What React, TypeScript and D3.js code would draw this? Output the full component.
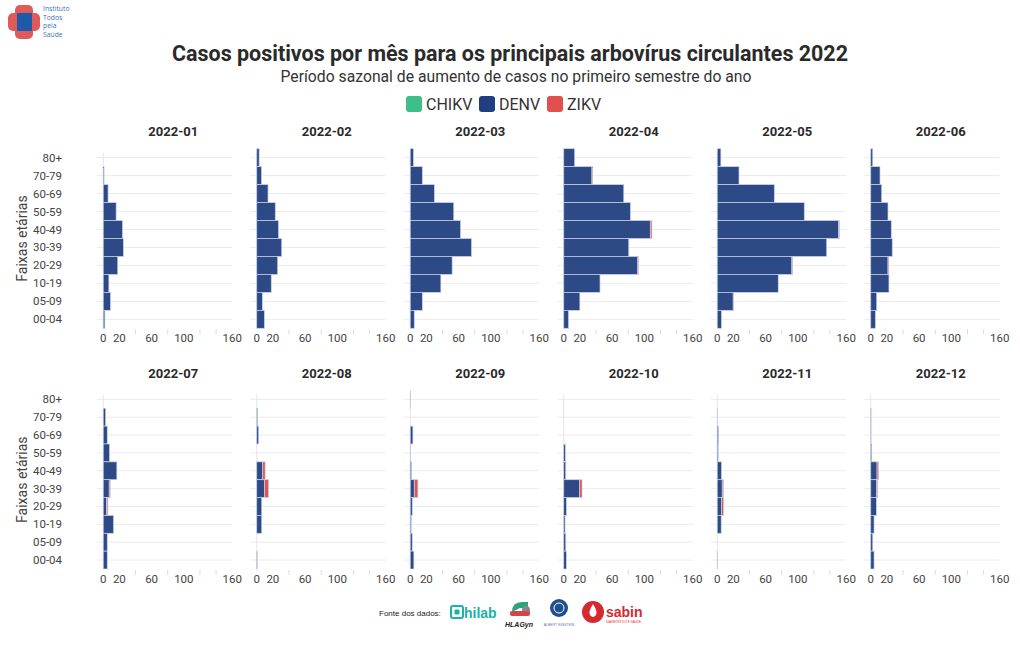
import React from "react";
import * as d3 from "d3";

const ageGroups = ["80+", "70-79", "60-69", "50-59", "40-49", "30-39", "20-29", "10-19", "05-09", "00-04"];
const months = ["2022-01", "2022-02", "2022-03", "2022-04", "2022-05", "2022-06", "2022-07", "2022-08", "2022-09", "2022-10", "2022-11", "2022-12"];
const seriesNames = ["CHIKV", "DENV", "ZIKV"];
const seriesColors = ["#3dbf8a", "#2e4a86", "#e05353"];
const legendColors = ["#3dbf8a", "#213e80", "#e24f4f"];

// values per month, in ageGroups order (80+ ... 00-04)
const denv = [
  [0, 1, 6, 16, 24, 25, 18, 7, 9, 2],
  [3, 6, 14, 23, 27, 31, 26, 18, 7, 9.5],
  [4, 15, 30, 54, 62.5, 76, 52, 38, 15, 5],
  [13.6, 35, 74.5, 82.7, 107.4, 80.7, 91.8, 45, 20, 6],
  [4.5, 27, 70.8, 108, 150.6, 135.8, 92.6, 75.7, 19.8, 5.3],
  [2.5, 11.5, 13.6, 21.4, 25.5, 26.7, 21.4, 22.6, 7.4, 5.8],
  [0, 3, 5, 7.8, 16.9, 7.4, 4.1, 12.8, 5, 5],
  [0, 1, 2.4, 0, 7.4, 9.5, 6.2, 6.2, 0, 0.5],
  [0.3, 0, 3.3, 0.3, 1.6, 5, 2.5, 1.2, 2.5, 4.5],
  [0, 0, 0, 2, 2.5, 19.8, 3.3, 1.6, 2.5, 3.3],
  [0, 0.5, 1.6, 1.2, 5.3, 6.2, 5.3, 4.9, 0, 0.5],
  [0, 0.4, 0.4, 1.2, 7.8, 7, 7, 4.1, 2.5, 4.1],
];
const zikv = [
  [0, 0, 0, 0, 0, 0, 0, 0, 0, 0],
  [0, 0, 0, 0, 0, 0, 0, 0, 0, 0],
  [0, 0, 0, 0, 0, 0, 0, 0, 0, 0],
  [0, 1, 0, 0, 2, 0, 1, 0, 0, 0],
  [0, 0, 0, 0, 1, 0, 1, 0, 0.5, 0],
  [0, 0, 0, 0, 0, 0, 1, 0, 0, 0],
  [0, 0, 0, 0, 0, 1.2, 1.6, 0, 0, 0],
  [0, 0, 0, 0, 3, 5.3, 0, 0, 0, 0],
  [0, 0, 0, 0, 0, 4.5, 0, 0, 0, 0],
  [0, 0, 0, 0, 0, 2.9, 0, 0, 0, 0],
  [0, 0, 0, 0, 0, 1.6, 2.5, 0, 0, 0],
  [0, 0, 0, 0, 2, 1.6, 0, 0, 0, 0],
];
const chikv = months.map(() => ageGroups.map(() => 0));

const xTickLabels = [0, 20, 60, 100, 160];
const xMinorTicks = [40, 80, 120, 140];

const FONT = "'Liberation Sans Narrow', 'Roboto', 'Noto Sans', sans-serif";

type Row = { age: string; CHIKV: number; DENV: number; ZIKV: number };

function Panel({ mi }: { mi: number }) {
  const col = mi % 6;
  const row = Math.floor(mi / 6);
  const left = 96.8 + 153.5 * col;
  const x = d3.scaleLinear().domain([-8, 160]).range([left, left + 135.4]);
  const yRange: [number, number] = row === 0 ? [148.7, 328.3] : [390.4, 569];
  const y = d3.scaleBand<string>().domain(ageGroups).range(yRange).padding(0);
  const data: Row[] = ageGroups.map((a, i) => ({
    age: a,
    CHIKV: chikv[mi][i],
    DENV: denv[mi][i],
    ZIKV: zikv[mi][i],
  }));
  const stack = d3.stack<Row>().keys(seriesNames);
  const layers = stack(data);
  const bottom = yRange[1];
  const titleY = row === 0 ? 136 : 378;
  return (
    <g>
      <text x={x(0) + 70} y={titleY} textAnchor="middle" fontFamily={FONT} fontWeight="bold" fontSize={13} fill="#2a2a2a">
        {months[mi]}
      </text>
      {ageGroups.map((a) => (
        <line key={a} x1={x(-8)} x2={x(160)} y1={y(a)! + y.bandwidth() / 2} y2={y(a)! + y.bandwidth() / 2} stroke="#ebebeb" strokeWidth={1} />
      ))}
      <line x1={x(0)} x2={x(0)} y1={yRange[0] + 4} y2={bottom} stroke="#e6e6e6" strokeWidth={1} />
      {layers.map((layer, si) => (
        <g key={si}>
          {layer.map((d, i) => {
            const w = x(d[1]) - x(d[0]);
            if (d[1] - d[0] <= 0) return null;
            return (
              <rect
                key={i}
                x={x(d[0])}
                y={y(ageGroups[i])!}
                width={w}
                height={y.bandwidth()}
                fill={seriesColors[si]}
                stroke="#c9d4ea"
                strokeWidth={0.7}
              />
            );
          })}
        </g>
      ))}
      {xMinorTicks.map((t) => (
        <line key={t} x1={x(t)} x2={x(t)} y1={bottom + 1} y2={bottom + 6} stroke="#dcdcdc" strokeWidth={1} />
      ))}
      {xTickLabels.map((t) => (
        <text key={t} x={x(t)} y={bottom + 14} textAnchor="middle" fontFamily={FONT} fontSize={11.5} fill="#444">
          {t}
        </text>
      ))}
      {col === 0 &&
        ageGroups.map((a) => (
          <text key={a} x={62} y={y(a)! + y.bandwidth() / 2 + 4} textAnchor="end" fontFamily={FONT} fontSize={11.5} fill="#444">
            {a}
          </text>
        ))}
      {col === 0 && (
        <text
          transform={`translate(27,${(yRange[0] + yRange[1]) / 2}) rotate(-90)`}
          textAnchor="middle"
          fontFamily={FONT}
          fontSize={14}
          fill="#444"
        >
          Faixas etárias
        </text>
      )}
    </g>
  );
}

function Legend() {
  const items = [
    { name: "CHIKV", x: 406 },
    { name: "DENV", x: 479 },
    { name: "ZIKV", x: 547 },
  ];
  return (
    <g>
      {items.map((it, i) => (
        <g key={it.name}>
          <rect x={it.x} y={96} width={16} height={16} rx={3} fill={legendColors[i]} />
          <text x={it.x + 20} y={110} fontFamily={FONT} fontSize={16} fill="#333">
            {it.name}
          </text>
        </g>
      ))}
    </g>
  );
}

const logoLines = ["Instituto", "Todos", "pela", "Saúde"];

function Logo() {
  return (
    <g>
      <rect x={8} y={13} width={32} height={18} rx={5} fill="#e05a5a" />
      <rect x={15} y={5} width={18} height={34} rx={5} fill="#e05a5a" />
      <rect x={17} y={13} width={15} height={18} fill="#1e5aa8" />
      <g fontFamily="'Open Sans', sans-serif" fontSize={6.8} fill="#3b76b8">
        {logoLines.map((l, i) => (
          <text key={l} x={43} y={11 + i * 8.5}>
            {l}
          </text>
        ))}
      </g>
    </g>
  );
}

function Sources() {
  return (
    <g>
      <text x={379} y={616} fontFamily="'Liberation Sans', Arial, sans-serif" fontSize={8} fill="#222">
        Fonte dos dados:
      </text>
      {/* hilab */}
      <rect x={451} y={606} width={12} height={12} rx={2} fill="none" stroke="#1bb3a6" strokeWidth={2} />
      <rect x={454.5} y={609.5} width={5} height={5} rx={1} fill="#1bb3a6" />
      <text x={464} y={618} fontFamily="'Liberation Sans', Arial, sans-serif" fontWeight="bold" fontSize={14} fill="#1bb3a6">
        hilab
      </text>
      {/* HLAGyn */}
      <path d="M512,612 q0,-10 10,-10 l6,0 l0,6 l-8,0 z" fill="#2aa57b" />
      <circle cx={526} cy={610} r={4} fill="#888" />
      <rect x={510} y={611} width={20} height={5} rx={2} fill="#d8434b" />
      <text x={505} y={627} fontFamily="'Liberation Sans', Arial, sans-serif" fontWeight="bold" fontStyle="italic" fontSize={7} fill="#222">
        HLAGyn
      </text>
      {/* Einstein */}
      <circle cx={559} cy={608} r={9} fill="#1f4f8f" />
      <circle cx={559} cy={608} r={5} fill="none" stroke="#fff" strokeWidth={1} />
      <text x={559} y={626} textAnchor="middle" fontFamily="'Liberation Sans', Arial, sans-serif" fontSize={3.5} fill="#5a7fb5">
        ALBERT EINSTEIN
      </text>
      {/* sabin */}
      <circle cx={593} cy={612} r={11} fill="#d7282f" />
      <path d="M593,604 q5,8 3,11 q-3,4 -6,0 q-2,-3 3,-11 z" fill="#fff" />
      <text x={606} y={617} fontFamily="'Liberation Sans', Arial, sans-serif" fontWeight="bold" fontSize={14} fill="#d7282f">
        sabin
      </text>
      <text x={606} y={623} fontFamily="'Liberation Sans', Arial, sans-serif" fontSize={3} fill="#d7282f">
        DIAGNÓSTICO E SAÚDE
      </text>
    </g>
  );
}

export default function App() {
  return (
    <svg width={1020} height={650} style={{ position: "absolute", left: 0, top: 0, background: "#fff" }}>
      <rect x={0} y={0} width={1020} height={650} fill="#fff" />
      <Logo />
      <text x={510} y={61} textAnchor="middle" fontFamily={FONT} fontWeight="bold" fontSize={22} fill="#2a2a2a" textLength={676} lengthAdjust="spacingAndGlyphs">
        Casos positivos por mês para os principais arbovírus circulantes 2022
      </text>
      <text x={516} y={82} textAnchor="middle" fontFamily={FONT} fontSize={17} fill="#333" textLength={471} lengthAdjust="spacingAndGlyphs">
        Período sazonal de aumento de casos no primeiro semestre do ano
      </text>
      <Legend />
      {months.map((m, i) => (
        <Panel key={m} mi={i} />
      ))}
      <Sources />
    </svg>
  );
}
